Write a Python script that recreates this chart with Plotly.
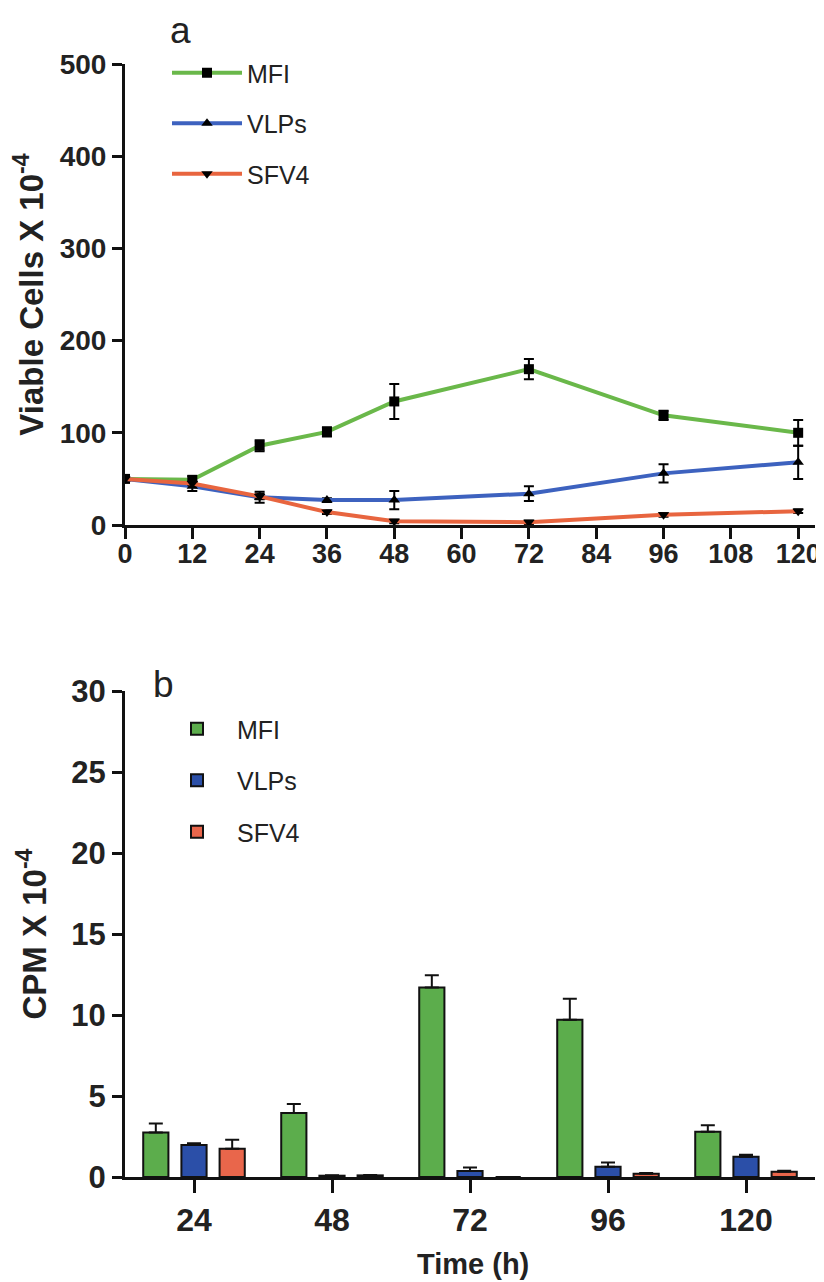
import plotly.graph_objects as go

# ---- Panel a data ----
hours_a = [0, 12, 24, 36, 48, 72, 96, 120]
mfi = [50, 49, 86, 101, 134, 169, 119, 100]
mfi_err = [2, 4, 6, 5, 19, 11, 5, 14]
vlps = [50, 42, 30, 27, 27, 34, 56, 68]
vlps_err = [2, 5, 6, 2, 10, 8, 10, 18]
sfv4 = [50, 45, 31, 14, 4, 3, 11, 15]
sfv4_err = [1, 2, 3, 2, 2, 2, 2, 2]
xticks_a = [0, 12, 24, 36, 48, 60, 72, 84, 96, 108, 120]
yticks_a = [0, 100, 200, 300, 400, 500]

# ---- Panel b data ----
hours_b = ["24", "48", "72", "96", "120"]
cpm_mfi = [2.75, 3.95, 11.7, 9.7, 2.8]
cpm_mfi_err = [0.55, 0.55, 0.75, 1.3, 0.4]
cpm_vlps = [1.97, 0.08, 0.37, 0.64, 1.25]
cpm_vlps_err = [0.12, 0.03, 0.22, 0.25, 0.12]
cpm_sfv4 = [1.75, 0.1, 0.0, 0.2, 0.33]
cpm_sfv4_err = [0.55, 0.03, 0.0, 0.05, 0.06]
yticks_b = [0, 5, 10, 15, 20, 25, 30]

OFF = 8  # page body margin
W, H = 824 - OFF, 1282 - OFF
FONT = "Liberation Sans, Arial, sans-serif"


def px(x):
    return (x - OFF) / W


def py(y):
    return 1 - (y - OFF) / H


line_cols = {"MFI": "#6ab84a", "VLPs": "#3d62bf", "SFV4": "#e8653f"}
bar_cols = {"MFI": "#5cad4c", "VLPs": "#2b4fa8", "SFV4": "#e9664b"}

fig = go.Figure()

for name, ys, es, sym in [("MFI", mfi, mfi_err, "square"),
                          ("VLPs", vlps, vlps_err, "triangle-up"),
                          ("SFV4", sfv4, sfv4_err, "triangle-down")]:
    fig.add_trace(go.Scatter(
        x=hours_a, y=ys, name=name, mode="lines+markers",
        line=dict(color=line_cols[name], width=4),
        marker=dict(symbol=sym, size=10, color="black"),
        error_y=dict(type="data", array=es, color="black", thickness=2, width=5),
        xaxis="x", yaxis="y", legend="legend", legendgroup="a" + name,
    ))

for name, ys, es in [("MFI", cpm_mfi, cpm_mfi_err),
                     ("VLPs", cpm_vlps, cpm_vlps_err),
                     ("SFV4", cpm_sfv4, cpm_sfv4_err)]:
    fig.add_trace(go.Bar(
        x=hours_b, y=ys, name=name,
        marker=dict(color=bar_cols[name], line=dict(color="#111111", width=2)),
        error_y=dict(type="data", array=es, arrayminus=[0] * len(es), symmetric=False,
                     color="#111111", thickness=2, width=7),
        xaxis="x2", yaxis="y2", legend="legend2", legendgroup="b" + name,
    ))

xdom = [px(125), px(815)]
ya_dom = [py(525), py(64)]
yb_dom = [py(1177), py(691)]

axis_common = dict(showline=True, linecolor="#111111", linewidth=3, ticks="outside",
                   tickcolor="#111111", tickwidth=3, showgrid=False, zeroline=False,
                   automargin=False)

fig.update_layout(
    width=W, height=H,
    margin=dict(l=0, r=0, t=0, b=0),
    paper_bgcolor="white", plot_bgcolor="rgba(0,0,0,0)",
    font=dict(family=FONT, color="#222222"),
    barmode="group", bargap=0.17, bargroupgap=0.34,
    xaxis=dict(domain=xdom, anchor="y", range=[0, 123], tickvals=xticks_a,
               ticklen=11, ticklabelstandoff=-8,
               tickfont=dict(size=27, family=FONT, weight="bold"), **axis_common),
    yaxis=dict(domain=ya_dom, anchor="x", range=[0, 500], tickvals=yticks_a,
               ticklen=10, tickfont=dict(size=28, family=FONT, weight="bold"),
               title=dict(text="Viable Cells X 10<sup>-4</sup>",
                          font=dict(size=33, family=FONT, weight="bold")),
               **axis_common),
    xaxis2=dict(domain=xdom, anchor="y2", range=[-0.5, 4.5], type="category",
                ticklen=13,
                tickfont=dict(size=32, family=FONT, weight="bold"),
                **axis_common),
    yaxis2=dict(domain=yb_dom, anchor="x2", range=[0, 30], tickvals=yticks_b,
                ticklen=10, tickfont=dict(size=31, family=FONT, weight="bold"),
                title=dict(text="CPM X 10<sup>-4</sup>",
                           font=dict(size=33, family=FONT, weight="bold")),
                **axis_common),
    legend=dict(x=px(167), y=py(50), xanchor="left", yanchor="top",
                bgcolor="rgba(0,0,0,0)", font=dict(size=25, family=FONT, color="#222222"),
                tracegroupgap=15, itemwidth=70),
    legend2=dict(x=px(157), y=py(706), xanchor="left", yanchor="top",
                 bgcolor="rgba(0,0,0,0)", font=dict(size=25, family=FONT, color="#222222"),
                 tracegroupgap=16, itemwidth=70),
    annotations=[
        dict(text="a", x=px(180), y=py(8), xref="paper", yref="paper",
             xanchor="center", yanchor="top",
             showarrow=False, font=dict(size=37, family=FONT, color="#222222")),
        dict(text="b", x=px(163), y=py(684), xref="paper", yref="paper",
             xanchor="center", yanchor="middle",
             showarrow=False, font=dict(size=37, family=FONT, color="#222222")),
        dict(text="<b>Time (h)</b>", x=px(473), y=py(1264), xref="paper", yref="paper",
             xanchor="center", yanchor="middle",
             showarrow=False, font=dict(size=29, family=FONT, color="#222222")),
    ],
)

fig.write_html("out.html")
